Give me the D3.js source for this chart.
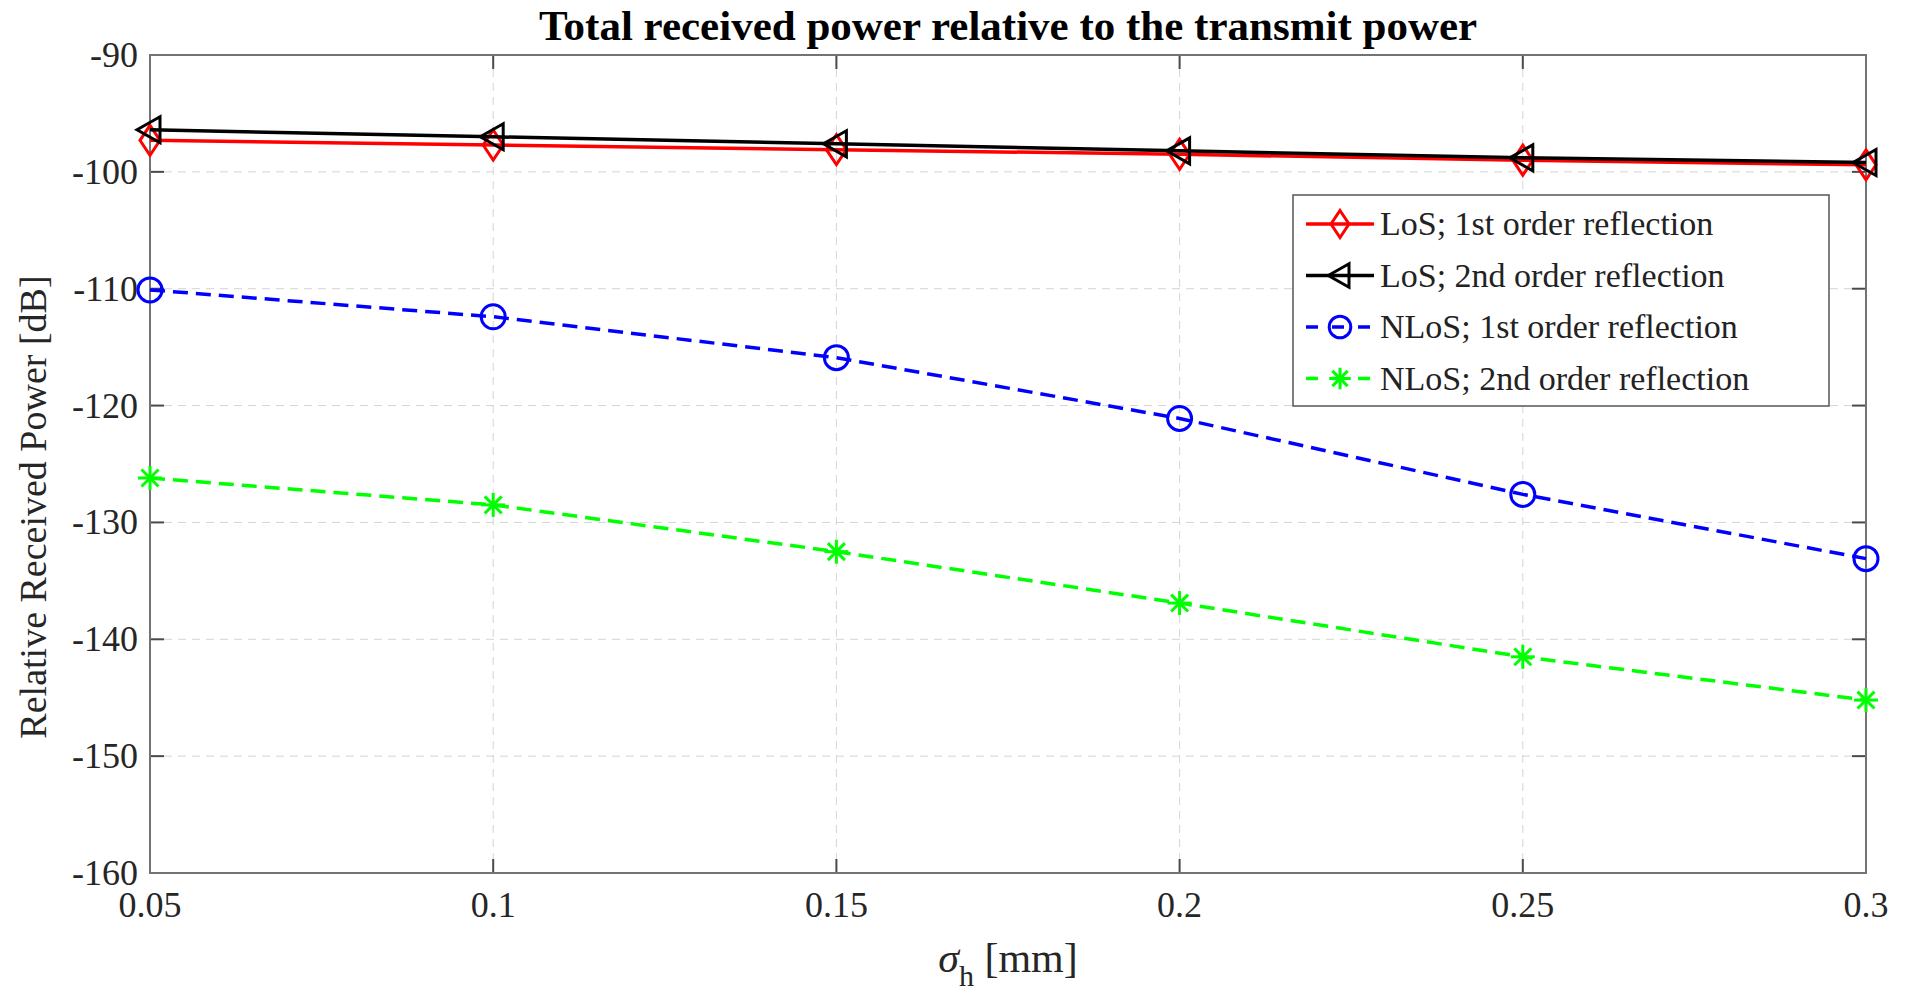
<!DOCTYPE html>
<html lang="en">
<head>
    <meta charset="UTF-8">
    <title>received power</title>
    <script src="https://d3js.org/d3.v7.min.js"></script>
    <style>
        body { margin: 0; background: #fff; }
        svg { display: block; font-family: "Liberation Serif", "Times New Roman", serif; }
        .grid line { stroke: #d4d4d4; stroke-width: 1px; stroke-dasharray: 8,6; }
        .frame { fill: none; stroke: #737373; stroke-width: 2px; }
        .tick-mark { stroke: #4a4a4a; stroke-width: 2px; }
        .tick-label { font-size: 36px; fill: #262626; }
        .series { fill: none; stroke-width: 3.5px; }
        .legend-box { fill: #fff; stroke: #555; stroke-width: 1.5px; }
        .legend-text { font-size: 34px; fill: #222; }
    </style>
</head>
<body>
<svg width="1910" height="994"></svg>
<script>

    // sigma_h values [mm]
    var sigmaH = [0.05, 0.1, 0.15, 0.2, 0.25, 0.3];

    var losFirst   = [-97.3, -97.7, -98.1, -98.5, -99.0, -99.4];
    var losSecond  = [-96.4, -97.0, -97.6, -98.2, -98.8, -99.2];
    var nlosFirst  = [-110.1, -112.4, -115.9, -121.1, -127.6, -133.1];
    var nlosSecond = [-126.2, -128.5, -132.5, -136.9, -141.5, -145.2];

    var xTicks = [0.05, 0.1, 0.15, 0.2, 0.25, 0.3];
    var yTicks = [-90, -100, -110, -120, -130, -140, -150, -160];

    var seriesNames = ['LoS; 1st order reflection', 'LoS; 2nd order reflection',
        'NLoS; 1st order reflection', 'NLoS; 2nd order reflection'];
    var seriesColors = ['#ff0000', '#000000', '#0000ff', '#00ff00'];
    var seriesMarkers = ['diamond', 'triangle', 'circle', 'star'];
    var seriesDashed = [false, false, true, true];

    var series = [losFirst, losSecond, nlosFirst, nlosSecond].map(function (vals, i) {
        return {
            name: seriesNames[i],
            color: seriesColors[i],
            marker: seriesMarkers[i],
            dashed: seriesDashed[i],
            values: vals
        };
    });

    var svg = d3.select('svg');

    var plotLeft = 150, plotRight = 1866, plotTop = 55, plotBottom = 873;

    var x = d3.scaleLinear().domain([0.05, 0.3]).range([plotLeft, plotRight]);
    var y = d3.scaleLinear().domain([-160, -90]).range([plotBottom, plotTop]);

    // grid
    var grid = svg.append('g').attr('class', 'grid');
    grid.selectAll('.gx').data(xTicks.slice(1, -1)).enter().append('line')
        .attr('x1', function (d) { return x(d); })
        .attr('x2', function (d) { return x(d); })
        .attr('y1', plotTop).attr('y2', plotBottom);
    grid.selectAll('.gy').data(yTicks.slice(1, -1)).enter().append('line')
        .attr('y1', function (d) { return y(d); })
        .attr('y2', function (d) { return y(d); })
        .attr('x1', plotLeft).attr('x2', plotRight);

    // inward ticks on all four sides
    var tickLen = 14;
    var ticks = svg.append('g');
    xTicks.forEach(function (t) {
        ticks.append('line').attr('class', 'tick-mark')
            .attr('x1', x(t)).attr('x2', x(t)).attr('y1', plotBottom).attr('y2', plotBottom - tickLen);
        ticks.append('line').attr('class', 'tick-mark')
            .attr('x1', x(t)).attr('x2', x(t)).attr('y1', plotTop).attr('y2', plotTop + tickLen);
    });
    yTicks.forEach(function (t) {
        ticks.append('line').attr('class', 'tick-mark')
            .attr('x1', plotLeft).attr('x2', plotLeft + tickLen).attr('y1', y(t)).attr('y2', y(t));
        ticks.append('line').attr('class', 'tick-mark')
            .attr('x1', plotRight).attr('x2', plotRight - tickLen).attr('y1', y(t)).attr('y2', y(t));
    });

    svg.append('rect').attr('class', 'frame')
        .attr('x', plotLeft).attr('y', plotTop)
        .attr('width', plotRight - plotLeft).attr('height', plotBottom - plotTop);

    // tick labels
    svg.selectAll('.xl').data(xTicks).enter().append('text')
        .attr('class', 'tick-label')
        .attr('x', function (d) { return x(d); })
        .attr('y', plotBottom + 44)
        .attr('text-anchor', 'middle')
        .text(function (d) { return d; });

    svg.selectAll('.yl').data(yTicks).enter().append('text')
        .attr('class', 'tick-label')
        .attr('x', plotLeft - 12)
        .attr('y', function (d) { return y(d) + 12; })
        .attr('text-anchor', 'end')
        .text(function (d) { return d; });

    // title and axis labels
    svg.append('text')
        .attr('x', (plotLeft + plotRight) / 2).attr('y', 40)
        .attr('text-anchor', 'middle')
        .style('font-size', '43px').style('font-weight', 'bold')
        .text('Total received power relative to the transmit power');

    svg.append('text')
        .attr('transform', 'translate(46,507) rotate(-90)')
        .attr('text-anchor', 'middle')
        .style('font-size', '38px').style('fill', '#262626')
        .text('Relative Received Power [dB]');

    var xl = svg.append('text')
        .attr('x', (plotLeft + plotRight) / 2).attr('y', 972)
        .attr('text-anchor', 'middle')
        .style('font-size', '42px').style('fill', '#262626');
    xl.append('tspan').style('font-style', 'italic').text('σ');
    xl.append('tspan').attr('dy', 14).style('font-size', '30px').text('h');
    xl.append('tspan').attr('dy', -14).text(' [mm]');

    // markers
    function drawMarker(g, type, color, cx, cy, s) {
        s = s || 1;
        if (type === 'diamond') {
            g.append('path')
                .attr('d', 'M' + cx + ',' + (cy - 15 * s) + 'L' + (cx + 10 * s) + ',' + cy +
                    'L' + cx + ',' + (cy + 15 * s) + 'L' + (cx - 10 * s) + ',' + cy + 'Z')
                .attr('fill', 'none').attr('stroke', color).attr('stroke-width', 3);
        } else if (type === 'triangle') {
            g.append('path')
                .attr('d', 'M' + (cx - 13 * s) + ',' + cy + 'L' + (cx + 10 * s) + ',' + (cy - 13 * s) +
                    'L' + (cx + 10 * s) + ',' + (cy + 13 * s) + 'Z')
                .attr('fill', 'none').attr('stroke', color).attr('stroke-width', 3);
        } else if (type === 'circle') {
            g.append('circle').attr('cx', cx).attr('cy', cy).attr('r', 12 * s)
                .attr('fill', 'none').attr('stroke', color).attr('stroke-width', 3);
        } else {
            var r = 12 * s;
            [0, 45, 90, 135].forEach(function (a) {
                var rad = a * Math.PI / 180;
                g.append('line')
                    .attr('x1', cx - r * Math.cos(rad)).attr('y1', cy - r * Math.sin(rad))
                    .attr('x2', cx + r * Math.cos(rad)).attr('y2', cy + r * Math.sin(rad))
                    .attr('stroke', color).attr('stroke-width', 3);
            });
        }
    }

    var line = d3.line()
        .x(function (d, i) { return x(sigmaH[i]); })
        .y(function (d) { return y(d); });

    // draw blue/green first, then red and black
    [2, 3, 0, 1].forEach(function (k) {
        var s = series[k];
        var g = svg.append('g');
        g.append('path').attr('class', 'series')
            .attr('d', line(s.values))
            .attr('stroke', s.color)
            .attr('stroke-dasharray', s.dashed ? '15,8' : null);
        s.values.forEach(function (v, i) {
            drawMarker(g, s.marker, s.color, x(sigmaH[i]), y(v));
        });
    });

    // legend
    var lg = svg.append('g');
    lg.append('rect').attr('class', 'legend-box')
        .attr('x', 1293).attr('y', 195).attr('width', 536).attr('height', 211);
    series.forEach(function (s, i) {
        var ly = 224 + i * 51.5;
        lg.append('line')
            .attr('x1', 1306).attr('x2', 1374).attr('y1', ly).attr('y2', ly)
            .attr('stroke', s.color).attr('stroke-width', 3.5)
            .attr('stroke-dasharray', s.dashed ? '12,14' : null);
        drawMarker(lg, s.marker, s.color, 1340, ly, 0.9);
        lg.append('text').attr('class', 'legend-text')
            .attr('x', 1380).attr('y', ly + 11)
            .text(s.name);
    });

</script>
</body>
</html>
